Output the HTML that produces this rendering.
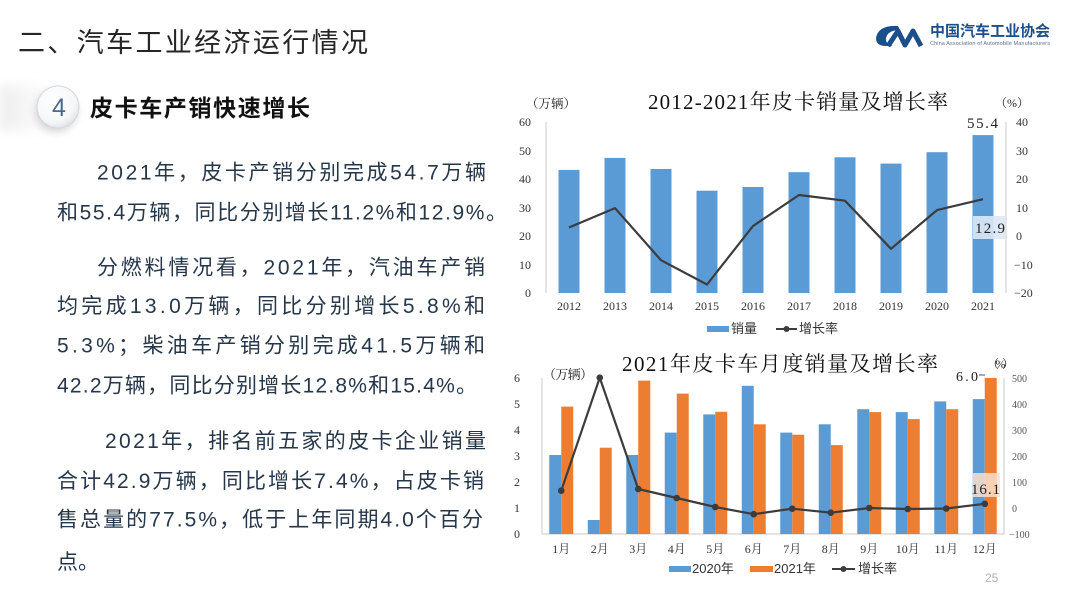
<!DOCTYPE html>
<html><head><meta charset="utf-8"><style>
html,body{margin:0;padding:0;background:#fff;}
svg{display:block;}
.body{font-family:"Liberation Sans","Noto Sans CJK SC",sans-serif;font-size:21px;fill:#26374a;}
.ser{font-family:"Liberation Serif","Noto Serif CJK SC",serif;}
.tk{font-family:"Liberation Serif","Noto Serif CJK SC",serif;font-size:12px;fill:#333;}
.tks{font-family:"Liberation Serif","Noto Serif CJK SC",serif;font-size:10px;fill:#555;}
.lg{font-family:"Liberation Sans","Noto Sans CJK SC",sans-serif;font-size:13px;fill:#333;}
</style></head><body>
<svg width="1080" height="604" viewBox="0 0 1080 604" xmlns="http://www.w3.org/2000/svg">
<defs>
<linearGradient id="band" x1="0" x2="1" y1="0" y2="0">
<stop offset="0" stop-color="#e6e6e6" stop-opacity="0.8"/>
<stop offset="1" stop-color="#ffffff" stop-opacity="0"/>
</linearGradient>
<radialGradient id="circ" cx="0.4" cy="0.35" r="0.7">
<stop offset="0" stop-color="#ffffff"/>
<stop offset="0.7" stop-color="#f6f7f9"/>
<stop offset="1" stop-color="#dfe2e6"/>
</radialGradient>
<filter id="blur" x="-50%" y="-50%" width="200%" height="200%"><feGaussianBlur stdDeviation="6"/></filter>
<filter id="blur2" x="-50%" y="-50%" width="200%" height="200%"><feGaussianBlur stdDeviation="4"/></filter>
</defs>
<rect width="1080" height="604" fill="#fff"/>

<!-- header -->
<text x="18" y="52" font-family="'Liberation Sans','Noto Sans CJK SC',sans-serif" font-size="27" fill="#262626" textLength="350" lengthAdjust="spacing">二、汽车工业经济运行情况</text>

<!-- logo -->
<path d="M898,26 Q878,25 876,38 Q876,46 886,46 L893,46 Q885,44 886,38 Q888,30 900,30 Z" fill="#1d4e8c"/>
<path d="M888,46 L898,31 L905,45 L913,31 L921,46" fill="none" stroke="#1d4e8c" stroke-width="5" stroke-linejoin="round"/>
<text x="930" y="36" font-family="'Liberation Sans','Noto Sans CJK SC',sans-serif" font-size="15" font-weight="bold" fill="#1d4e8c" textLength="120" lengthAdjust="spacing">中国汽车工业协会</text>
<text x="930" y="45" font-family="'Liberation Sans',sans-serif" font-size="5.5" fill="#5a7090" textLength="120" lengthAdjust="spacing">China Association of Automobile Manufacturers</text>

<!-- subtitle -->
<rect x="0" y="86" width="80" height="44" fill="url(#band)" filter="url(#blur)"/>
<circle cx="56" cy="111" r="21" fill="#d4d4d4" filter="url(#blur2)"/>
<circle cx="58" cy="107" r="21" fill="url(#circ)" stroke="#d4d7db" stroke-width="1"/>
<text x="59" y="116" text-anchor="middle" font-family="'Liberation Sans',sans-serif" font-size="25" fill="#4a6a8c">4</text>
<text x="90" y="116" font-family="'Liberation Sans','Noto Sans CJK SC',sans-serif" font-size="23" font-weight="bold" fill="#111" textLength="220" lengthAdjust="spacing">皮卡车产销快速增长</text>

<!-- body text -->
<text class="body" x="97" y="179.5" textLength="389" lengthAdjust="spacing">2021年，皮卡产销分别完成54.7万辆</text>
<text class="body" x="57" y="219.5" textLength="450" lengthAdjust="spacing">和55.4万辆，同比分别增长11.2%和12.9%。</text>
<text class="body" x="97" y="274.5" textLength="388" lengthAdjust="spacing">分燃料情况看，2021年，汽油车产销</text>
<text class="body" x="57" y="313" textLength="428" lengthAdjust="spacing">均完成13.0万辆，同比分别增长5.8%和</text>
<text class="body" x="57" y="352.5" textLength="428" lengthAdjust="spacing">5.3%；柴油车产销分别完成41.5万辆和</text>
<text class="body" x="57" y="392.5" textLength="420" lengthAdjust="spacing">42.2万辆，同比分别增长12.8%和15.4%。</text>
<text class="body" x="105" y="448" textLength="381" lengthAdjust="spacing">2021年，排名前五家的皮卡企业销量</text>
<text class="body" x="57" y="488" textLength="427" lengthAdjust="spacing">合计42.9万辆，同比增长7.4%，占皮卡销</text>
<text class="body" x="57" y="526.5" textLength="426" lengthAdjust="spacing">售总量的77.5%，低于上年同期4.0个百分</text>
<text class="body" x="57" y="569">点。</text>

<!-- ===== TOP CHART ===== -->
<text class="ser" x="648" y="109" font-size="21" fill="#111" textLength="300" lengthAdjust="spacing">2012-2021年皮卡销量及增长率</text>
<text class="ser" x="526" y="108" font-size="12.5" fill="#222">（万辆）</text>
<text class="ser" x="995" y="107" font-size="12" fill="#222" textLength="34" lengthAdjust="spacing">（%）</text>

<line x1="546" y1="122" x2="546" y2="293" stroke="#c8c8c8" stroke-width="1"/>
<line x1="1006" y1="122" x2="1006" y2="293" stroke="#c8c8c8" stroke-width="1"/>

<g class="tk" text-anchor="end">
<text x="531" y="126">60</text><text x="531" y="155">50</text><text x="531" y="183">40</text>
<text x="531" y="212">30</text><text x="531" y="240">20</text><text x="531" y="269">10</text><text x="531" y="297">0</text>
</g>
<g class="tk">
<text x="1016" y="126">40</text><text x="1016" y="155">30</text><text x="1016" y="183">20</text>
<text x="1016" y="212">10</text><text x="1016" y="240">0</text><text x="1014" y="269">−10</text><text x="1014" y="297">−20</text>
</g>

<g fill="#5b9bd5">
<rect x="558.5" y="169.9" width="21" height="123.1"/>
<rect x="604.5" y="157.9" width="21" height="135.1"/>
<rect x="650.5" y="169.0" width="21" height="124.0"/>
<rect x="696.5" y="190.7" width="21" height="102.3"/>
<rect x="742.5" y="187.0" width="21" height="106.0"/>
<rect x="788.5" y="172.2" width="21" height="120.8"/>
<rect x="834.5" y="157.3" width="21" height="135.7"/>
<rect x="880.5" y="163.6" width="21" height="129.4"/>
<rect x="926.5" y="152.2" width="21" height="140.8"/>
<rect x="972.5" y="135.1" width="21" height="157.9"/>
</g>
<polyline points="569,227.5 615,208.1 661,260.2 707,284.5 753,226.0 799,195.0 845,200.7 891,248.8 937,210.1 983,199.2" fill="none" stroke="#3c3c3c" stroke-width="2.2" stroke-linejoin="round"/>

<rect x="973" y="216" width="32" height="23" fill="#dce8f5" opacity="0.9"/>
<text class="ser" x="975" y="233" font-size="15" fill="#222" textLength="30" lengthAdjust="spacing">12.9</text>
<text class="ser" x="967" y="128" font-size="15" fill="#222" textLength="31" lengthAdjust="spacing">55.4</text>

<g class="tk" text-anchor="middle">
<text x="569" y="310">2012</text><text x="615" y="310">2013</text><text x="661" y="310">2014</text>
<text x="707" y="310">2015</text><text x="753" y="310">2016</text><text x="799" y="310">2017</text>
<text x="845" y="310">2018</text><text x="891" y="310">2019</text><text x="937" y="310">2020</text><text x="983" y="310">2021</text>
</g>

<rect x="707" y="326" width="22" height="6" fill="#5b9bd5"/>
<text class="lg" x="731" y="333">销量</text>
<line x1="776" y1="329" x2="797" y2="329" stroke="#3c3c3c" stroke-width="2"/>
<circle cx="786.5" cy="329" r="3" fill="#3c3c3c"/>
<text class="lg" x="799" y="333">增长率</text>

<!-- ===== BOTTOM CHART ===== -->
<text class="ser" x="622" y="371" font-size="21" fill="#111" textLength="316" lengthAdjust="spacing">2021年皮卡车月度销量及增长率</text>
<text class="ser" x="543" y="379" font-size="13" fill="#222" textLength="50" lengthAdjust="spacing">（万辆）</text>
<text class="ser" x="987" y="368" font-size="12" fill="#222" textLength="27" lengthAdjust="spacing">（%）</text>

<line x1="542" y1="378" x2="542" y2="534" stroke="#c8c8c8" stroke-width="1"/>
<line x1="542" y1="534" x2="1004" y2="534" stroke="#c8c8c8" stroke-width="1"/>
<line x1="1004" y1="378" x2="1004" y2="534" stroke="#c8c8c8" stroke-width="1"/>

<g class="tk" text-anchor="end">
<text x="520" y="382">6</text><text x="520" y="408">5</text><text x="520" y="434">4</text>
<text x="520" y="460">3</text><text x="520" y="486">2</text><text x="520" y="512">1</text><text x="520" y="538">0</text>
</g>
<g class="tks">
<text x="1012" y="382">500</text><text x="1012" y="408">400</text><text x="1012" y="434">300</text>
<text x="1012" y="460">200</text><text x="1012" y="486">100</text><text x="1012" y="512">0</text><text x="1009" y="538">−100</text>
</g>

<g fill="#5b9bd5">
<rect x="549.25" y="455.0" width="12" height="79.0"/>
<rect x="587.75" y="520.0" width="12" height="14.0"/>
<rect x="626.25" y="455.0" width="12" height="79.0"/>
<rect x="664.75" y="432.6" width="12" height="101.4"/>
<rect x="703.25" y="414.4" width="12" height="119.6"/>
<rect x="741.75" y="385.8" width="12" height="148.2"/>
<rect x="780.25" y="432.6" width="12" height="101.4"/>
<rect x="818.75" y="424.3" width="12" height="109.7"/>
<rect x="857.25" y="409.2" width="12" height="124.8"/>
<rect x="895.75" y="412.1" width="12" height="121.9"/>
<rect x="934.25" y="401.4" width="12" height="132.6"/>
<rect x="972.75" y="399.1" width="12" height="134.9"/>
</g>
<g fill="#ed7d31">
<rect x="561.25" y="406.6" width="12" height="127.4"/>
<rect x="599.75" y="447.7" width="12" height="86.3"/>
<rect x="638.25" y="380.6" width="12" height="153.4"/>
<rect x="676.75" y="393.6" width="12" height="140.4"/>
<rect x="715.25" y="411.8" width="12" height="122.2"/>
<rect x="753.75" y="424.3" width="12" height="109.7"/>
<rect x="792.25" y="434.7" width="12" height="99.3"/>
<rect x="830.75" y="445.1" width="12" height="88.9"/>
<rect x="869.25" y="412.1" width="12" height="121.9"/>
<rect x="907.75" y="419.1" width="12" height="114.9"/>
<rect x="946.25" y="409.2" width="12" height="124.8"/>
<rect x="984.75" y="378.0" width="12" height="156.0"/>
</g>
<polyline points="561.25,490.7 599.75,377.7 638.25,489.0 676.75,498.0 715.25,507.0 753.75,514.2 792.25,508.7 830.75,512.7 869.25,508 907.75,509.0 946.25,508.5 984.75,503.8" fill="none" stroke="#3c3c3c" stroke-width="2.2" stroke-linejoin="round"/>
<g fill="#3c3c3c">
<circle cx="561.25" cy="490.7" r="3.3"/><circle cx="599.75" cy="377.7" r="3.3"/><circle cx="638.25" cy="489.0" r="3.3"/>
<circle cx="676.75" cy="498.0" r="3.3"/><circle cx="715.25" cy="507.0" r="3.3"/><circle cx="753.75" cy="514.2" r="3.3"/>
<circle cx="792.25" cy="508.7" r="3.3"/><circle cx="830.75" cy="512.7" r="3.3"/><circle cx="869.25" cy="508" r="3.3"/>
<circle cx="907.75" cy="509.0" r="3.3"/><circle cx="946.25" cy="508.5" r="3.3"/><circle cx="984.75" cy="503.8" r="3.3"/>
</g>

<rect x="973" y="473" width="27" height="24" fill="#f9dfcb" opacity="0.85"/>
<text class="ser" x="971" y="494" font-size="15" fill="#222" textLength="29" lengthAdjust="spacing">16.1</text>
<text class="ser" x="956" y="381" font-size="14" fill="#222" textLength="22" lengthAdjust="spacing">6.0</text>
<line x1="979" y1="375" x2="985" y2="375" stroke="#555" stroke-width="1"/>

<g class="tk" text-anchor="middle">
<text x="561.25" y="553">1月</text><text x="599.75" y="553">2月</text><text x="638.25" y="553">3月</text>
<text x="676.75" y="553">4月</text><text x="715.25" y="553">5月</text><text x="753.75" y="553">6月</text>
<text x="792.25" y="553">7月</text><text x="830.75" y="553">8月</text><text x="869.25" y="553">9月</text>
<text x="907.75" y="553">10月</text><text x="946.25" y="553">11月</text><text x="984.75" y="553">12月</text>
</g>

<rect x="669" y="566" width="22" height="6" fill="#5b9bd5"/>
<text class="lg" x="692" y="573">2020年</text>
<rect x="750" y="566" width="23" height="6" fill="#ed7d31"/>
<text class="lg" x="774" y="573">2021年</text>
<line x1="832" y1="569" x2="855" y2="569" stroke="#3c3c3c" stroke-width="2"/>
<circle cx="843.5" cy="569" r="3" fill="#3c3c3c"/>
<text class="lg" x="858" y="573">增长率</text>

<text x="985" y="582" font-family="'Liberation Sans',sans-serif" font-size="12" fill="#b0b0b0">25</text>
</svg>
</body></html>
